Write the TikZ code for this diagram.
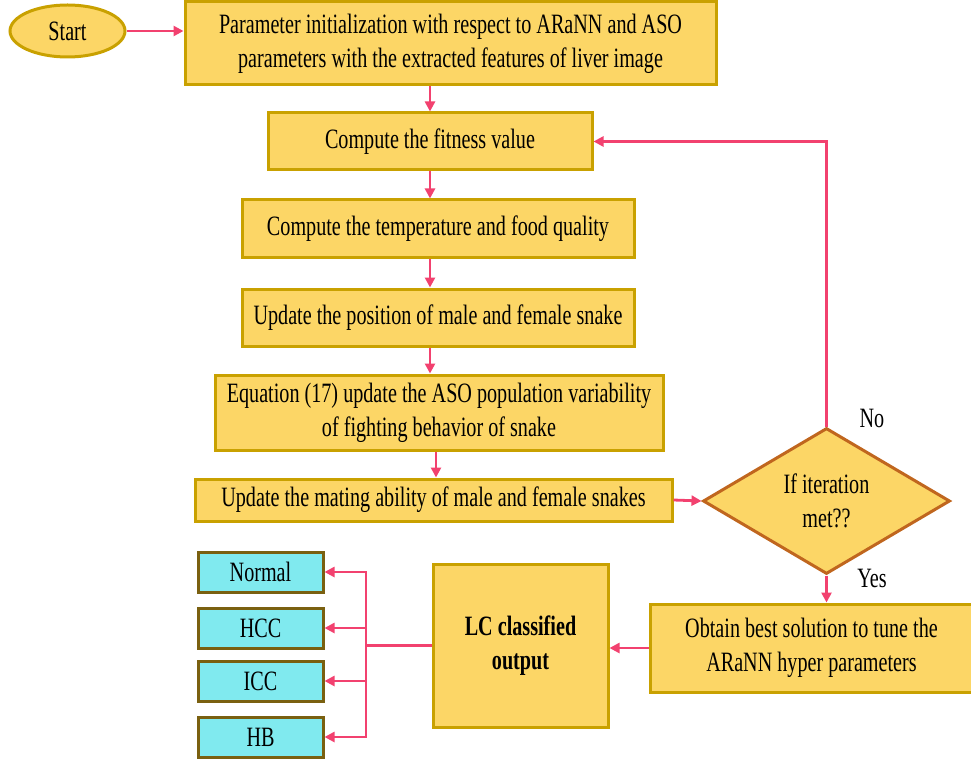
\documentclass[tikz,border=0pt]{standalone}
\usepackage{fontspec}
\setmainfont{Liberation Serif}[FakeStretch=0.72]
\usetikzlibrary{shapes.geometric,arrows.meta}
\definecolor{yfill}{HTML}{FCD666}
\definecolor{yline}{HTML}{C9A100}
\definecolor{cfill}{HTML}{80EAEF}
\definecolor{cline}{HTML}{7A6010}
\definecolor{dline}{HTML}{C0661E}
\definecolor{pk}{HTML}{F2416F}
\begin{document}
\begin{tikzpicture}[x=1pt,y=-1pt,font=\fontsize{28}{34}\selectfont,
  ybox/.style={draw=yline,fill=yfill,line width=3pt,inner sep=0pt,align=center,rectangle},
  cbox/.style={draw=cline,fill=cfill,line width=3pt,inner sep=0pt,align=center,rectangle,minimum width=125pt,minimum height=40pt},
  conn/.style={draw=pk,line width=2.8pt,-{Triangle[length=10pt,width=10pt]}},
  plain/.style={draw=pk,line width=2.8pt}]
\useasboundingbox (0,0) rectangle (971,759);
\node[ybox,ellipse,minimum width=115pt,minimum height=52pt] (start) at (67.5,31) {Start};
\node[ybox,minimum width=531pt,minimum height=83pt] (b1) at (450.5,43.5) {Parameter initialization with respect to ARaNN and ASO\\parameters with the extracted features of liver image};
\node[ybox,minimum width=324pt,minimum height=57pt] (b2) at (430,141.5) {Compute the fitness value};
\node[ybox,minimum width=392pt,minimum height=58pt] (b3) at (438,229) {Compute the temperature and food quality};
\node[ybox,minimum width=392pt,minimum height=57pt] (b4) at (438,317.5) {Update the position of male and female snake};
\node[ybox,minimum width=448pt,minimum height=75pt] (b5) at (439,412.5) {Equation (17) update the ASO population variability\\of fighting behavior of snake};
\node[ybox,minimum width=477pt,minimum height=42pt] (b6) at (433.5,500) {Update the mating ability of male and female snakes};
\node[ybox,diamond,draw=dline,aspect=1.69,minimum width=247pt,minimum height=146pt] (dia) at (826.5,501) {If iteration\\met??};
\node[ybox,minimum width=323pt,minimum height=88pt] (ob) at (811.5,648) {Obtain best solution to tune the\\ARaNN hyper parameters};
\node[ybox,minimum width=175pt,minimum height=163pt,font=\fontsize{28}{34}\selectfont\bfseries] (lc) at (520.5,645.5) {LC classified\\output};
\node[cbox] (o1) at (260.5,572) {Normal};
\node[cbox] (o2) at (260.5,628) {HCC};
\node[cbox] (o3) at (260.5,681) {ICC};
\node[cbox] (o4) at (260.5,737) {HB};
\node (no) at (872,418) {No};
\node (yes) at (872,578) {Yes};
\coordinate (j) at (366,645.5);
\draw[conn] (start.east) -- (start.east -| b1.west);
\draw[conn] (b2.north |- b1.south) -- (b2.north);
\draw[conn] (b2.south) -- (b2.south |- b3.north);
\draw[conn] (b2.south |- b3.south) -- (b2.south |- b4.north);
\draw[conn] (b2.south |- b4.south) -- (b2.south |- b5.north);
\draw[conn] ([xshift=6pt]b2.south |- b5.south) -- ([xshift=6pt]b2.south |- b6.north);
\draw[conn] (b6.east) -- (dia.west);
\draw[conn] (dia.north) |- (b2.east);
\draw[conn] (dia.south) -- (dia.south |- ob.north);
\draw[conn] (ob.west) -- (ob.west -| lc.east);
\draw[plain] (lc.west) -- (j);
\draw[conn] (j) |- (o1.east);
\draw[conn] (j) |- (o2.east);
\draw[conn] (j) |- (o3.east);
\draw[conn] (j) |- (o4.east);
\end{tikzpicture}
\end{document}
